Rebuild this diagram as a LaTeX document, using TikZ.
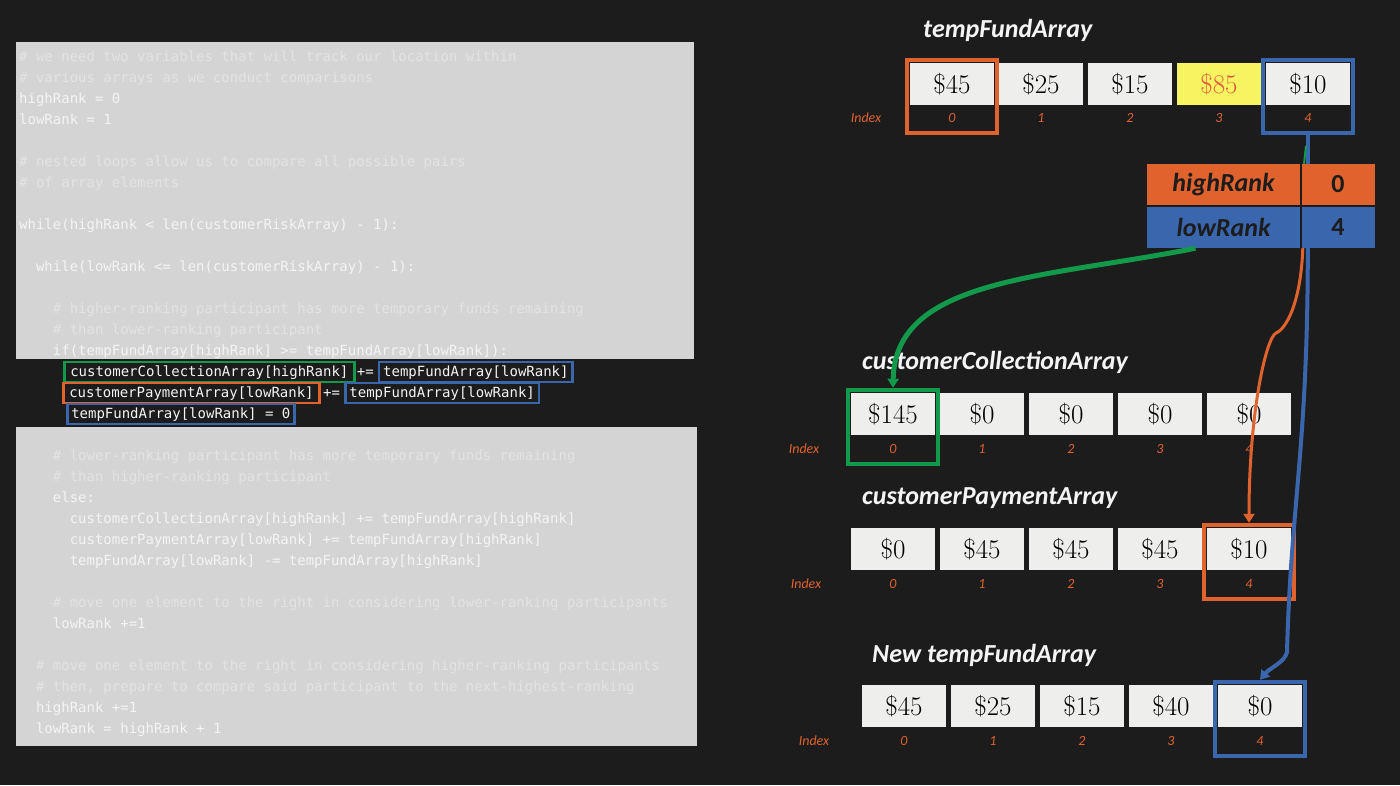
\documentclass[tikz,border=0pt]{standalone}
\usepackage{fontspec}
\setmonofont{DejaVu Sans Mono}
\newfontfamily\carlito{Carlito}
\usetikzlibrary{arrows.meta, positioning, fit}
\definecolor{cbg}{HTML}{1C1C1C}
\definecolor{cpanel}{HTML}{D4D4D4}
\definecolor{ccell}{HTML}{EEEEEC}
\definecolor{cyellow}{HTML}{F7F462}
\definecolor{corange}{HTML}{E0622D}
\definecolor{cred}{HTML}{E2563A}
\definecolor{cblue}{HTML}{3A66AD}
\definecolor{cgreen}{HTML}{12994A}
\definecolor{ccode}{HTML}{F4F4F4}
\definecolor{ccmt}{HTML}{E3E3E3}
\tikzset{
  code/.style={font=\ttfamily\fontsize{14}{16}\selectfont, text=ccode, anchor=west, inner xsep=4pt, inner ysep=3pt, text height=11pt, text depth=3pt},
  cmt/.style={code, text=ccmt},
  hlcode/.style={code, draw=#1, line width=2.5pt},
  cell/.style={fill=ccell, minimum width=84pt, minimum height=42pt, inner sep=0pt, font=\fontsize{27}{27}\selectfont},
  idx/.style={font=\carlito\itshape\fontsize{14}{14}\selectfont, text=corange, minimum height=24pt, inner sep=0pt},
  title/.style={font=\carlito\bfseries\itshape\fontsize{26}{26}\selectfont, text=ccode, anchor=west, inner sep=0pt},
  hlbox/.style={draw=#1, line width=4pt, inner sep=3pt},
  rank/.style={fill=#1, minimum height=41pt, inner sep=0pt, text=cbg, font=\carlito\bfseries\fontsize{26}{26}\selectfont},
  link/.style={draw=#1, -{Triangle[length=9pt, width=11pt]}},
}
\begin{document}
\begin{tikzpicture}[x=1pt, y=-1pt]
  \useasboundingbox (0,0) rectangle (1400,785);
  \fill[cbg] (0,0) rectangle (1400,785);
  % code listing
  \fill[cpanel] (16,42) rectangle (694,359);
  \fill[cpanel] (16,427) rectangle (697,746);
  \foreach \ind/\row/\sty/\txt in {
    0/0/cmt/{\# we need two variables that will track our location within},
    0/1/cmt/{\# various arrays as we conduct comparisons},
    0/2/code/{highRank = 0}, 0/3/code/{lowRank = 1},
    0/5/cmt/{\# nested loops allow us to compare all possible pairs},
    0/6/cmt/{\# of array elements},
    0/8/code/{while(highRank < len(customerRiskArray) - 1):},
    1/10/code/{while(lowRank <= len(customerRiskArray) - 1):},
    2/12/cmt/{\# higher-ranking participant has more temporary funds remaining},
    2/13/cmt/{\# than lower-ranking participant},
    2/14/code/{if(tempFundArray[highRank] >= tempFundArray[lowRank]):},
    2/19/cmt/{\# lower-ranking participant has more temporary funds remaining},
    2/20/cmt/{\# than higher-ranking participant},
    2/21/code/{else:},
    3/22/code/{customerCollectionArray[highRank] += tempFundArray[highRank]},
    3/23/code/{customerPaymentArray[lowRank] += tempFundArray[highRank]},
    3/24/code/{tempFundArray[lowRank] -= tempFundArray[highRank]},
    2/26/cmt/{\# move one element to the right in considering lower-ranking participants},
    2/27/code/{lowRank +=1},
    1/29/cmt/{\# move one element to the right in considering higher-ranking participants},
    1/30/cmt/{\# then, prepare to compare said participant to the next-highest-ranking},
    1/31/code/{highRank +=1}, 1/32/code/{lowRank = highRank + 1}}
    \node[\sty] (line-\row) at ({15+16.86*\ind}, {57+21*\row}) {\txt};
  \node[hlcode=cgreen, inner xsep=6pt] (ccHigh) at (63,372) {customerCollectionArray[highRank]};
  \node[code] (opA) at ({66+34*8.43},372) {+=};
  \node[hlcode=cblue] (tfLowA) at ({66+37*8.43},372) {tempFundArray[lowRank]};
  \node[hlcode=corange, inner xsep=6pt] (cpLow) at (62,393) {customerPaymentArray[lowRank]};
  \node[code] (opB) at ({66+30*8.43},393) {+=};
  \node[hlcode=cblue] (tfLowB) at ({66+33*8.43},393) {tempFundArray[lowRank]};
  \node[hlcode=cblue] (tfZero) at (66,414) {tempFundArray[lowRank] = 0};
  % arrays
  \node[title] (tf-title) at (923,30) {tempFundArray};
  \node[idx] (tf-lbl) at (866,118) {Index};
  \foreach \v/\c/\t [count=\i from 0] in {45/ccell/black, 25/ccell/black, 15/ccell/black, 85/cyellow/cred, 10/ccell/black} {
    \node[cell, fill=\c, text=\t] (tf-\i) at ({952+89*\i},84) {\$\v};
    \node[idx] (tf-\i-i) at ({952+89*\i},118) {\i};
  }
  \node[title] (cc-title) at (862,362) {customerCollectionArray};
  \node[idx] (cc-lbl) at (804,449) {Index};
  \foreach \v [count=\i from 0] in {145,0,0,0,0} {
    \node[cell] (cc-\i) at ({893+89*\i},414) {\$\v};
    \node[idx] (cc-\i-i) at ({893+89*\i},449) {\i};
  }
  \node[title] (cp-title) at (862,498) {customerPaymentArray};
  \node[idx] (cp-lbl) at (806,584) {Index};
  \foreach \v [count=\i from 0] in {0,45,45,45,10} {
    \node[cell] (cp-\i) at ({893+89*\i},549) {\$\v};
    \node[idx] (cp-\i-i) at ({893+89*\i},584) {\i};
  }
  \node[title] (ntf-title) at (872,655) {New tempFundArray};
  \node[idx] (ntf-lbl) at (814,741) {Index};
  \foreach \v [count=\i from 0] in {45,25,15,40,0} {
    \node[cell] (ntf-\i) at ({904+89*\i},706) {\$\v};
    \node[idx] (ntf-\i-i) at ({904+89*\i},741) {\i};
  }
  \node[hlbox=corange, fit=(tf-0)(tf-0-i)] (tfHighBox) {};
  \node[hlbox=cblue, fit=(tf-4)(tf-4-i)] (tfLowBox) {};
  \node[hlbox=cgreen, fit=(cc-0)(cc-0-i)] (ccBox) {};
  \node[hlbox=corange, fit=(cp-4)(cp-4-i)] (cpBox) {};
  \node[hlbox=cblue, fit=(ntf-4)(ntf-4-i)] (ntfBox) {};
  % rank table
  \node[rank=corange, minimum width=153pt] (hr-k) at (1223.5,184.5) {\itshape highRank};
  \node[rank=corange, minimum width=73pt] (hr-v) at (1338,184.5) {0};
  \node[rank=cblue, minimum width=153pt] (lr-k) at (1223.5,227.5) {\itshape lowRank};
  \node[rank=cblue, minimum width=73pt] (lr-v) at (1338,227.5) {4};
  \draw[cblue, line width=4pt] (tfLowBox.south) -- (tfLowBox.south |- hr-v.north);
  \draw[cgreen, line width=2pt] ([xshift=-4pt]tfLowBox.south |- hr-v.north) -- ++(2,-18);
  % moves
  \coordinate (bendO) at (1276,333);
  \coordinate (bendB) at (1287,652);
  \draw[link=cgreen, line width=5pt] ([xshift=-28pt]lr-k.south) .. controls +(-150,30) and +(2,-110) .. (ccBox.north -| cc-0.north);
  \draw[link=corange, line width=3pt] ([xshift=1.5pt]lr-v.south west) .. controls +(-2,55) and +(10,-4) .. (bendO) .. controls +(-10,5) and +(0,-110) .. (cpBox.north);
  \draw[link=cblue, line width=4pt] ([xshift=6.5pt]lr-v.south west) .. controls +(0,200) and +(4,-150) .. (bendB) .. controls +(-2,10) and +(10,-12) .. (ntfBox.north);
\end{tikzpicture}
\end{document}
